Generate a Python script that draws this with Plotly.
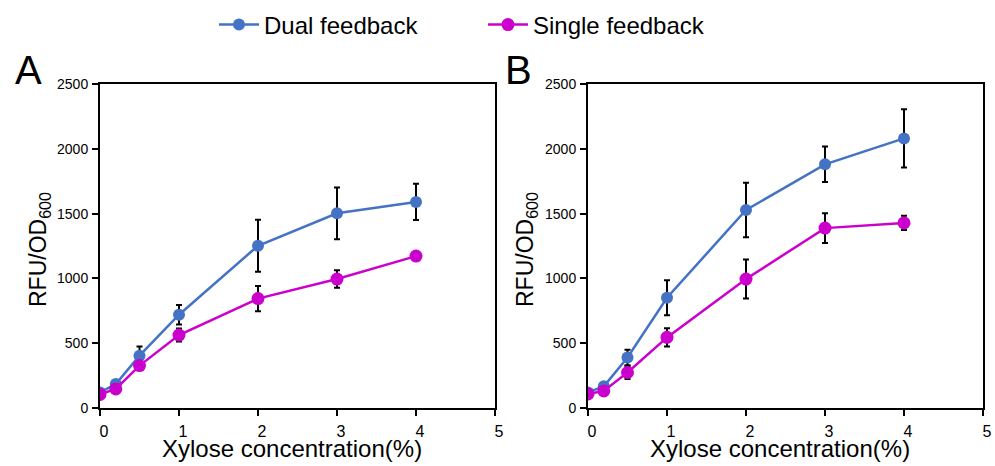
import plotly.graph_objects as go

x_vals = [0, 0.2, 0.5, 1, 2, 3, 4]

# Panel A
dual_a = [120, 185, 404, 720, 1252, 1502, 1590]
dual_a_err = [15, 20, 70, 75, 200, 200, 140]
single_a = [105, 147, 327, 563, 844, 995, 1172]
single_a_err = [10, 12, 20, 50, 97, 68, 15]

# Panel B
dual_b = [120, 167, 390, 851, 1528, 1880, 2080]
dual_b_err = [15, 20, 60, 135, 210, 137, 225]
single_b = [108, 132, 274, 545, 995, 1388, 1428]
single_b_err = [10, 15, 50, 70, 150, 115, 55]

x_ticks = [0, 1, 2, 3, 4, 5]
y_ticks = [0, 500, 1000, 1500, 2000, 2500]

BLUE = "#4472C4"
MAGENTA = "#CC00CC"
FONT = "Liberation Sans, Arial, sans-serif"

W, H = 995, 466

fig = go.Figure()

def add_panel(xa, ya, dual, dual_err, single, single_err, showlegend):
    fig.add_trace(go.Scatter(
        x=x_vals, y=dual, mode="lines+markers", name="Dual feedback",
        line=dict(color=BLUE, width=2.5), marker=dict(color=BLUE, size=12),
        error_y=dict(type="data", array=dual_err, visible=True, color="black",
                     thickness=2, width=3),
        xaxis=xa, yaxis=ya, showlegend=showlegend))
    fig.add_trace(go.Scatter(
        x=x_vals, y=single, mode="lines+markers", name="Single feedback",
        line=dict(color=MAGENTA, width=2.5), marker=dict(color=MAGENTA, size=13),
        error_y=dict(type="data", array=single_err, visible=True, color="black",
                     thickness=2, width=3),
        xaxis=xa, yaxis=ya, showlegend=showlegend))

add_panel("x", "y", dual_a, dual_a_err, single_a, single_a_err, True)
add_panel("x2", "y2", dual_b, dual_b_err, single_b, single_b_err, False)

def xaxis(domain, anchor):
    return dict(domain=domain, anchor=anchor, range=[0, 5], tickvals=x_ticks,
                ticks="outside", ticklen=6, tickwidth=2, tickcolor="black",
                showline=True, linewidth=2, linecolor="black", mirror=True,
                showgrid=False, zeroline=False,
                tickfont=dict(family=FONT, size=16, color="black"),
                ticklabelstandoff=2, ticklabelshift=4)

def yaxis(domain, anchor):
    return dict(domain=domain, anchor=anchor, range=[0, 2500], tickvals=y_ticks,
                ticks="outside", ticklen=6, tickwidth=2, tickcolor="black",
                showline=True, linewidth=2, linecolor="black", mirror=True,
                showgrid=False, zeroline=False,
                tickfont=dict(family=FONT, size=14, color="black"),
                ticklabelstandoff=1)

ydom = [1 - 408 / H, 1 - 84 / H]
fig.update_layout(
    width=W, height=H,
    margin=dict(l=0, r=0, t=0, b=0, autoexpand=False),
    paper_bgcolor="white", plot_bgcolor="white",
    font=dict(family=FONT, color="black"),
    xaxis=xaxis([100 / W, 495 / W], "y"),
    yaxis=yaxis(ydom, "x"),
    xaxis2=xaxis([588 / W, 983 / W], "y2"),
    yaxis2=yaxis(ydom, "x2"),
    legend=dict(orientation="h", x=214 / W, xanchor="left", y=1 - 25 / H, yanchor="middle",
                font=dict(family=FONT, size=24, color="black"),
                bgcolor="rgba(0,0,0,0)", itemwidth=40, entrywidth=214, tracegroupgap=0),
    showlegend=True,
)

annotations = []
for cx, letter in [(28, "A"), (518, "B")]:
    annotations.append(dict(text=letter, x=cx / W, y=1 - 70 / H, xref="paper", yref="paper",
                            showarrow=False, font=dict(family=FONT, size=40, color="black"),
                            xanchor="center", yanchor="middle"))
for cx in [292, 780]:
    annotations.append(dict(text="Xylose concentration(%)", x=cx / W, y=1 - 448 / H,
                            xref="paper", yref="paper", showarrow=False,
                            font=dict(family=FONT, size=24, color="black"),
                            xanchor="center", yanchor="middle"))
for cx in [40, 527]:
    annotations.append(dict(text="RFU/OD<sub>600</sub>", x=cx / W, y=1 - 250 / H,
                            xref="paper", yref="paper", showarrow=False, textangle=-90,
                            font=dict(family=FONT, size=23, color="black"),
                            xanchor="center", yanchor="middle"))
fig.update_layout(annotations=annotations)

fig.write_html("out.html")
